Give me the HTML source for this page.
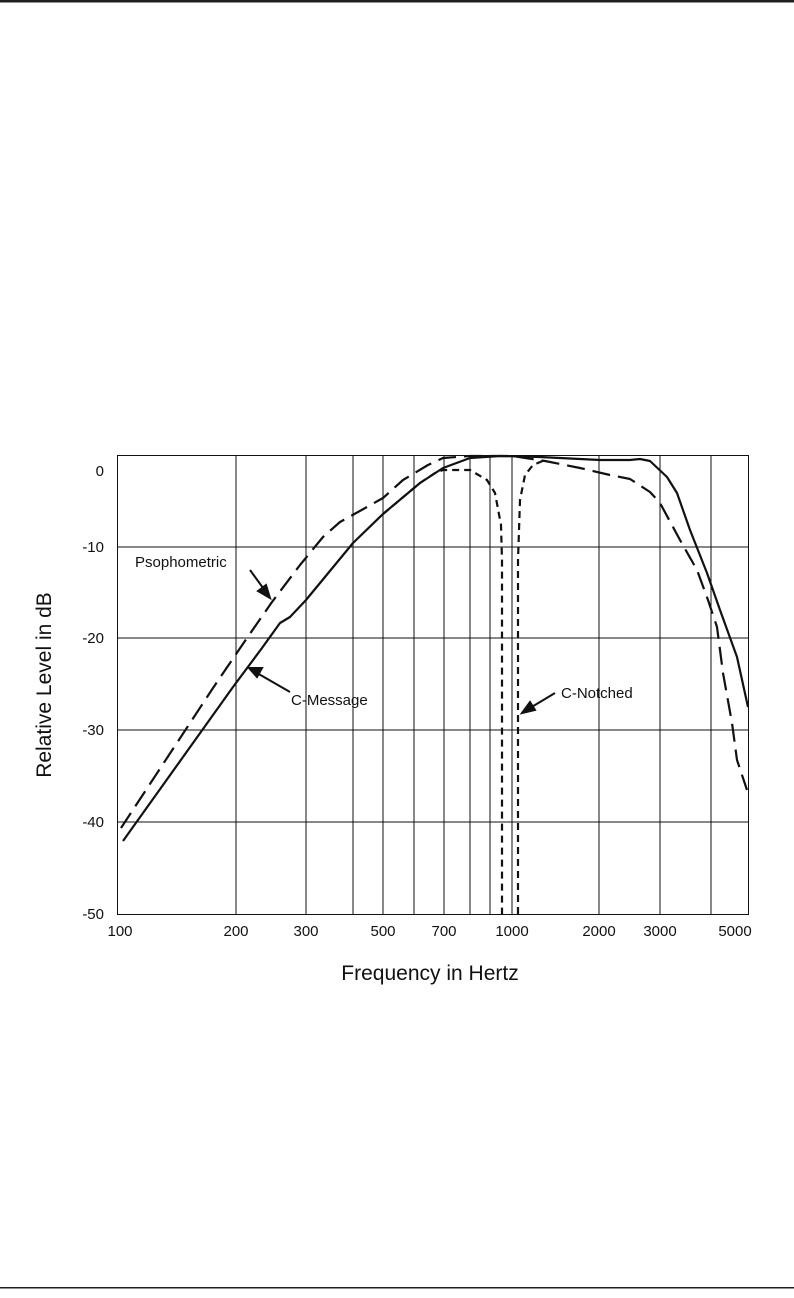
<!DOCTYPE html>
<html><head><style>
html,body{margin:0;padding:0;background:#fff;}
svg{display:block;}
text{font-family:"Liberation Sans",sans-serif;fill:#111;}
</style></head><body>
<svg width="794" height="1298" viewBox="0 0 794 1298" xmlns="http://www.w3.org/2000/svg">
<rect x="0" y="0" width="794" height="2.5" fill="#231f20"/>
<rect x="0" y="1287" width="794" height="1.5" fill="#231f20"/>
<g stroke="#111" stroke-width="1" fill="none">
<rect x="117.5" y="455.5" width="631" height="459"/>
<path d="M236 455V914M306 455V914M353 455V914M383 455V914M414 455V914M444 455V914M470 455V914M490 455V914M512 455V914M599 455V914M660 455V914M711 455V914"/>
<path d="M117 547H748M117 638H748M117 730H748M117 822H748"/>
</g>
<g font-size="15">
<text x="104" y="476" text-anchor="end">0</text>
<text x="104" y="552" text-anchor="end">-10</text>
<text x="104" y="643" text-anchor="end">-20</text>
<text x="104" y="735" text-anchor="end">-30</text>
<text x="104" y="827" text-anchor="end">-40</text>
<text x="104" y="919" text-anchor="end">-50</text>
<g text-anchor="middle">
<text x="120" y="936">100</text><text x="236" y="936">200</text><text x="306" y="936">300</text>
<text x="383" y="936">500</text><text x="444" y="936">700</text><text x="512" y="936">1000</text>
<text x="599" y="936">2000</text><text x="660" y="936">3000</text><text x="735" y="936">5000</text>
</g>
</g>
<text x="430" y="980" font-size="21" text-anchor="middle">Frequency in Hertz</text>
<text transform="translate(51,685) rotate(-90)" font-size="21" text-anchor="middle">Relative Level in dB</text>
<g font-size="15">
<text x="135" y="567">Psophometric</text>
<text x="291" y="705">C-Message</text>
<text x="561" y="698">C-Notched</text>
</g>
<g stroke="#111" stroke-width="2.2" fill="none" stroke-linejoin="round">
<path d="M123 841 L233 687 L262 648 L280 623 L290 617 L306 600 L353 543 L383 514 L420 483 L443 468 L470 458 L500 456 L540 457 L600 460 L630 460 L640 459 L650 461 L667 477 L677 493 L690 530 L707 573 L720 610 L737 657 L748 707"/>
<path stroke-dasharray="18,8" d="M121 828 L213 688 L247 638 L272 602 L300 565 L323 537 L340 522 L367 507 L383 498 L403 480 L428 465 L443 458 L470 456 L512 456 L545 461 L580 468 L610 475 L630 479 L650 492 L660 503 L680 540 L697 570 L708 600 L717 627 L723 673 L732 723 L737 760 L747 790"/>
<path stroke-dasharray="7,5" d="M383 514 L420 483 L435 473 L443 470 L470 470 L487 480 L495 493 L501 525 L502 560 L502 914"/>
<path stroke-dasharray="7,5" d="M518 914 L518 560 L520 500 L525 475 L533 465 L545 460"/>
</g>
<g stroke="#111" stroke-width="2" fill="#111">
<line x1="250" y1="570" x2="266" y2="592"/><polygon points="270,598 258,591 266,585"/>
<line x1="290" y1="692" x2="257" y2="673"/><polygon points="249,668 262,668 257,677"/>
<line x1="555" y1="693" x2="530" y2="708"/><polygon points="522,713 530,702 535,710"/>
</g>
</svg>
</body></html>
